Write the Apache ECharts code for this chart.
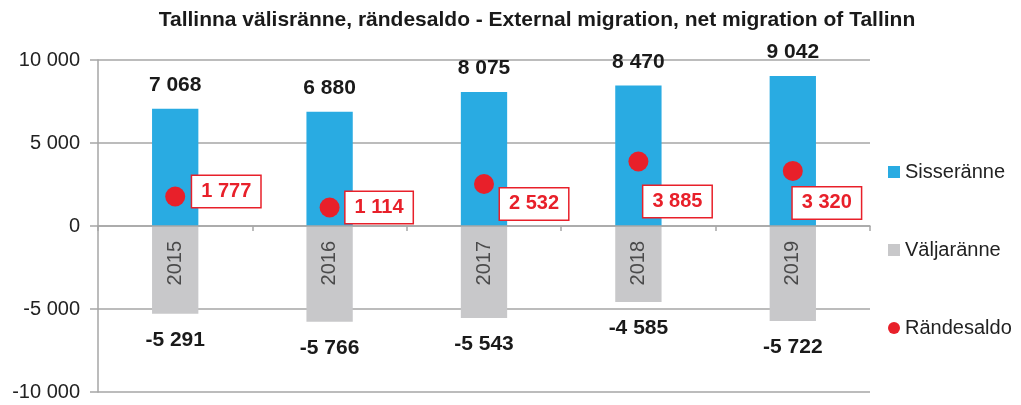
<!DOCTYPE html>
<html>
<head>
<meta charset="utf-8">
<script src="https://cdn.jsdelivr.net/npm/echarts@6/dist/echarts.min.js"></script>
<style>html,body{margin:0;padding:0;background:#fff}#c{width:1021px;height:405px}</style>
</head>
<body>
<div id="c"></div>
<script>
const categories = ['2015', '2016', '2017', '2018', '2019'];
const sisseranne = [7068, 6880, 8075, 8470, 9042];
const valjaranne = [-5291, -5766, -5543, -4585, -5722];
const randesaldo = [1777, 1114, 2532, 3885, 3320];
const yTicks = { min: -10000, max: 10000, interval: 5000 };
// label box nudges (layout only)
const labelOffsets = [[2, -5], [1, 0], [1, 20], [-10, 40], [-15, 32]];

const fmt = v => String(v).replace(/\B(?=(\d{3})+(?!\d))/g, ' ');
const FONT = '"Liberation Sans", Arial, sans-serif';
const chart = echarts.init(document.getElementById('c'), null, { renderer: 'canvas' });
chart.setOption({
  animation: false,
  title: {
    text: 'Tallinna välisränne, rändesaldo - External migration, net migration of Tallinn',
    left: 532, textAlign: 'center', top: 5,
    textStyle: { fontFamily: FONT, fontSize: 21, fontWeight: 'bold', color: '#1a1a1a' }
  },
  legend: {
    orient: 'vertical', left: 883, top: 157, itemGap: 58, itemWidth: 12, itemHeight: 12,
    textStyle: { fontFamily: FONT, fontSize: 20, color: '#222' },
    data: [
      { name: 'Sisseränne', icon: 'rect' },
      { name: 'Väljaränne', icon: 'rect' },
      { name: 'Rändesaldo', icon: 'circle' }
    ]
  },
  grid: { left: 98, right: 151, top: 60, bottom: 13, outerBoundsMode: 'none', containLabel: false },
  xAxis: {
    type: 'category', data: categories, z: 10,
    axisLine: { onZero: true, lineStyle: { color: '#a6a6a6', width: 1.5 } },
    axisTick: { show: true, length: 5, lineStyle: { color: '#a6a6a6', width: 1.5 } },
    axisLabel: { show: false }
  },
  yAxis: {
    type: 'value', min: yTicks.min, max: yTicks.max, interval: yTicks.interval,
    axisLine: { show: true, lineStyle: { color: '#a6a6a6', width: 1.5 } },
    axisTick: { show: true, length: 8, lineStyle: { color: '#a6a6a6', width: 1.5 } },
    splitLine: { lineStyle: { color: '#a6a6a6', width: 1.5 } },
    axisLabel: { fontFamily: FONT, fontSize: 20, color: '#222', margin: 18, formatter: fmt }
  },
  series: [
    {
      name: 'Sisseränne', type: 'bar', data: sisseranne, barWidth: '30%', barGap: '-100%',
      itemStyle: { color: '#29abe2' },
      label: { show: true, position: 'top', distance: 13, fontFamily: FONT, fontSize: 21, fontWeight: 'bold', color: '#1a1a1a', formatter: p => fmt(p.value) }
    },
    {
      name: 'Väljaränne', type: 'bar', data: valjaranne, barWidth: '30%', barGap: '-100%',
      itemStyle: { color: '#c8c8ca' },
      label: { show: true, position: 'bottom', distance: 16, fontFamily: FONT, fontSize: 21, fontWeight: 'bold', color: '#1a1a1a', formatter: p => fmt(p.value) }
    },
    {
      name: 'yearLabels', type: 'scatter', symbolSize: 0, z: 6, silent: true,
      data: categories.map(c => [c, 0]),
      label: {
        show: true, position: 'bottom', distance: 15, rotate: 90, align: 'right', verticalAlign: 'middle',
        fontFamily: FONT, fontSize: 20, color: '#2a2a2a', formatter: p => p.name || p.value[0]
      }
    },
    {
      name: 'Rändesaldo', type: 'scatter', symbolSize: 20, z: 5,
      itemStyle: { color: '#e8202a', opacity: 1 },
      data: randesaldo.map((v, i) => ({ value: v, label: { offset: labelOffsets[i] } })),
      label: {
        show: true, position: 'right', distance: 5, fontFamily: FONT, fontSize: 20, fontWeight: 'bold', color: '#e8202a',
        backgroundColor: '#fff', borderColor: '#e8202a', borderWidth: 1.5, padding: [6, 9, 5, 9],
        formatter: p => fmt(p.value)
      }
    }
  ]
});
</script>
</body>
</html>
